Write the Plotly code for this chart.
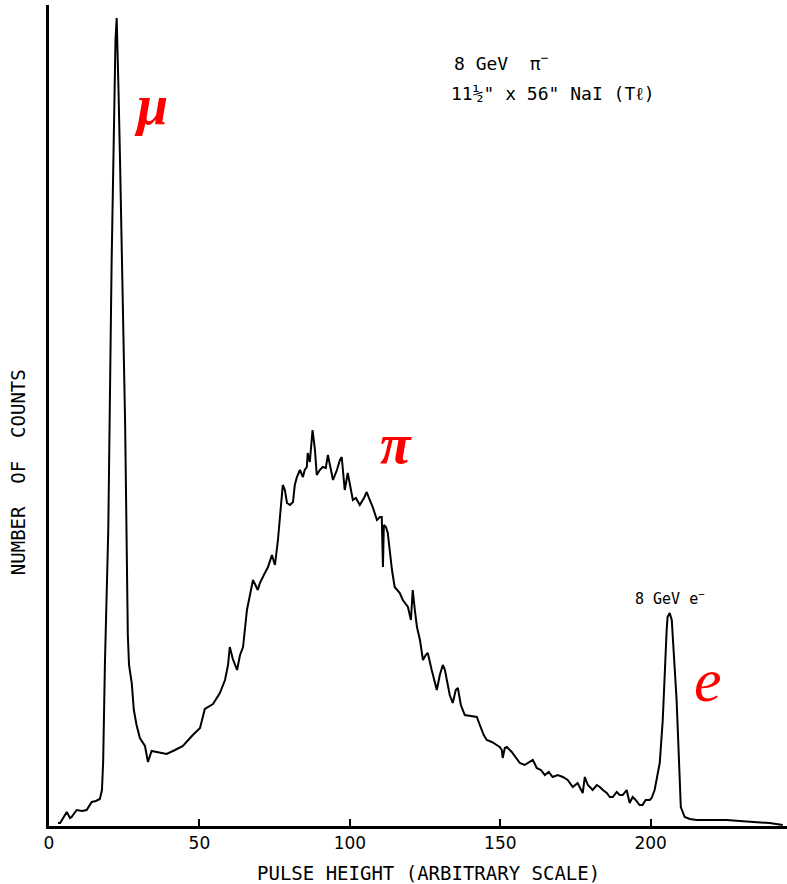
import plotly.graph_objects as go

# Pulse height (arbitrary scale) and number of counts (arbitrary units)
pulse_height = [
    3.0, 3.7, 4.7, 5.9, 7.0, 7.5, 9.2, 11.0, 12.5, 14.2, 15.6, 16.9, 17.6, 18.0, 18.6, 19.7, 20.8, 21.6, 22.1, 22.5,
    22.8, 23.1, 23.6, 24.4, 25.3, 26.2, 26.6, 27.5, 28.2, 29.1, 30.2, 31.9, 32.9, 34.1, 36.2, 39.1, 41.9, 44.5, 47.8,
    50.2, 51.8, 54.5, 56.8, 58.5, 59.5, 60.1, 61.1, 62.5, 63.5, 64.5, 65.8, 66.8, 67.8, 69.4, 70.1, 71.4, 72.8, 74.1,
    75.1, 76.1, 76.7, 77.7, 78.4, 79.1, 80.1, 81.1, 81.7, 82.4, 83.4, 84.4, 85.0, 85.7, 86.0, 86.7, 87.6, 88.4, 89.0,
    90.0, 91.0, 92.0, 92.7, 93.7, 94.4, 95.7, 96.7, 97.3, 98.3, 99.3, 100.0, 101.0, 102.0, 103.3, 104.7, 105.6, 106.6,
    107.6, 109.0, 110.0, 110.6, 111.0, 111.3, 112.0, 112.6, 113.3, 114.0, 114.9, 116.6, 117.6, 119.3, 120.3, 120.9,
    121.6, 122.3, 123.3, 124.3, 125.2, 125.9, 127.2, 128.9, 129.9, 130.9, 131.6, 132.2, 133.2, 134.2, 135.2, 135.9,
    136.9, 138.2, 139.9, 142.2, 143.2, 144.5, 145.5, 147.2, 148.8, 149.8, 150.5, 150.8, 151.5, 152.2, 153.8, 155.1,
    156.5, 158.1, 159.5, 160.8, 161.5, 162.1, 163.5, 164.8, 166.1, 167.4, 169.1, 170.8, 172.4, 174.1, 175.7, 177.4,
    178.1, 179.1, 180.1, 180.7, 182.1, 183.1, 184.1, 185.4, 186.4, 187.4, 188.7, 189.7, 190.7, 192.0, 193.0, 194.0,
    195.0, 196.3, 197.3, 198.3, 199.7, 200.3, 201.3, 202.3, 203.0, 204.0, 204.7, 205.3, 205.6, 206.3, 207.0, 207.3,
    208.0, 208.6, 209.0, 209.6, 210.0, 211.3, 213.0, 215.3, 219.6, 225.2, 229.6, 234.6, 239.5, 243.9,
]
counts = [
    3, 3, 8, 14, 8, 9, 16, 15, 16, 24, 25, 27, 36, 64, 164, 296, 561, 716, 786, 808,
    781, 736, 667, 536, 403, 191, 161, 143, 116, 101, 88, 80, 64, 75, 74, 72, 76, 80, 91,
    98, 117, 122, 133, 146, 161, 179, 167, 156, 171, 179, 216, 231, 246, 236, 243, 251, 259, 271,
    261, 286, 306, 341, 336, 323, 321, 324, 341, 349, 356, 349, 356, 359, 373, 364, 396, 376, 351,
    356, 359, 358, 371, 356, 346, 356, 366, 369, 336, 353, 341, 326, 328, 321, 328, 334, 326,
    319, 306, 309, 309, 259, 301, 299, 293, 273, 256, 239, 233, 226, 219, 206, 236,
    216, 199, 186, 166, 171, 173, 156, 136, 151, 161, 156, 146, 131, 123, 136, 138,
    121, 111, 110, 109, 101, 91, 86, 84, 81, 79, 76, 68, 78, 79, 74, 69,
    63, 61, 64, 66, 62, 58, 56, 51, 54, 49, 51, 49, 46, 39, 43, 33,
    49, 41, 38, 36, 41, 39, 36, 33, 29, 29, 34, 31, 31, 36, 23, 29,
    26, 21, 21, 26, 26, 28, 36, 51, 63, 106, 163, 196, 209, 213, 206, 191,
    163, 126, 96, 36, 19, 9, 7, 6, 6, 6, 5, 4, 3, 1,
]

x_ticks = [0, 50, 100, 150, 200]
x_tick_labels = ["0", "50", "100", "150", "200"]

fig = go.Figure()
fig.add_trace(go.Scatter(
    x=pulse_height, y=counts, mode="lines",
    line=dict(color="black", width=2), hoverinfo="skip", showlegend=False,
))

mono = dict(family="DejaVu Sans Mono", color="black")
sans = dict(family="DejaVu Sans", color="black")
greek_font = dict(family="Liberation Serif", color="#ff0000", size=56)

annotations = [
    dict(x=134, y=764, xref="x", yref="y", text="8 GeV  π<sup>−</sup>", showarrow=False,
         xanchor="left", yanchor="middle", font=dict(size=18, **mono)),
    dict(x=133, y=733, xref="x", yref="y", text="11½\" x 56\" NaI (Tℓ)", showarrow=False,
         xanchor="left", yanchor="middle", font=dict(size=18, **mono)),
    dict(x=206.5, y=228, xref="x", yref="y", text="8 GeV e<sup>−</sup>", showarrow=False,
         xanchor="center", yanchor="middle", font=dict(size=15, **mono)),
    dict(x=34, y=721, xref="x", yref="y", text="<b><i>μ</i></b>", showarrow=False,
         xanchor="center", yanchor="middle", font=greek_font),
    dict(x=115.5, y=382, xref="x", yref="y", text="<b><i>π</i></b>", showarrow=False,
         xanchor="center", yanchor="middle", font=greek_font),
    dict(x=219, y=146, xref="x", yref="y", text="<i>e</i>", showarrow=False,
         xanchor="center", yanchor="middle", font=dict(family="Liberation Serif", color="#ff0000", size=62)),
    dict(x=0, y=0.431, xref="paper", yref="paper", xshift=-31, text="NUMBER  OF  COUNTS",
         textangle=-90, showarrow=False, xanchor="center", yanchor="middle",
         font=dict(size=19, **mono)),
    dict(x=0.5, y=0, xref="paper", yref="paper", xshift=10, yshift=-47, text="PULSE HEIGHT (ARBITRARY SCALE)",
         showarrow=False, xanchor="center", yanchor="middle", font=dict(size=19, **mono)),
]

fig.update_layout(
    width=787, height=884,
    margin=dict(l=49, r=0, t=5, b=58),
    paper_bgcolor="white", plot_bgcolor="white",
    annotations=annotations,
    xaxis=dict(
        range=[0, 245.3], tickvals=x_ticks, ticktext=x_tick_labels,
        ticks="inside", ticklen=7, tickwidth=1.5, tickcolor="black",
        showline=True, linecolor="black", linewidth=3,
        showgrid=False, zeroline=False,
        tickfont=dict(size=17, **sans),
    ),
    yaxis=dict(
        range=[0, 821], showticklabels=False, ticks="",
        showline=True, linecolor="black", linewidth=3,
        showgrid=False, zeroline=False,
    ),
)

fig.write_html("out.html")
